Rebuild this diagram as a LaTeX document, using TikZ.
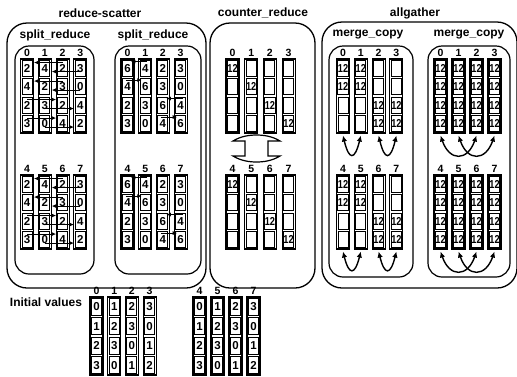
\documentclass[tikz,border=0pt]{standalone}
\usepackage{fontspec}
\setmainfont{Liberation Sans}
\usepackage{graphicx}
\usetikzlibrary{arrows.meta,calc}
\newcommand\tw{\scalebox{0.8}[1]{12}}
\def\rowh{18.5}
\newcommand\mkcol[5]{%
  \node[colbox, minimum height={4*\rowh pt}] (#1) at ({#2+6.5},{#3+2*\rowh}) {};
  \node[collbl] (#1-l) at ([yshift=1.8pt]#1.north) {#4};
  \foreach \v [count=\i from 0] in {#5} {%
    \node[cellbox, minimum height={\rowh pt-2.6pt}] (#1-\i) at ({#2+6.5},{#3+(\i+0.5)*\rowh}) {\v};
  }%
}
\newcommand\mkgrp[9]{%
  \mkcol{#1-0}{#2}{#4}{\the\numexpr#5\relax}{#6}%
  \mkcol{#1-1}{#2+#3}{#4}{\the\numexpr#5+1\relax}{#7}%
  \mkcol{#1-2}{#2+2*#3}{#4}{\the\numexpr#5+2\relax}{#8}%
  \mkcol{#1-3}{#2+3*#3}{#4}{\the\numexpr#5+3\relax}{#9}%
}
\newcommand\srAarrows[1]{%
  \foreach \r in {0,1} {%
    \draw[sar] ([yshift=-2.7pt]#1-2-\r.north) -- ([xshift=1.5pt,yshift=-2.7pt]#1-0-\r.north east);
    \draw[sar] ([yshift=-11.7pt]#1-3-\r.north) -- ([xshift=1.5pt,yshift=-11.7pt]#1-1-\r.north east);
  }%
  \foreach \r in {2,3} {%
    \draw[sar] ([yshift=-2.7pt]#1-0-\r.north) -- ([xshift=-1pt,yshift=-2.7pt]#1-2-\r.north west);
    \draw[sar] ([yshift=-11.7pt]#1-1-\r.north) -- ([xshift=-1pt,yshift=-11.7pt]#1-3-\r.north west);
  }%
}
\newcommand\srBarrows[1]{%
  \draw[sar] ([xshift=2pt,yshift=-1.7pt]#1-1-0.north) -- ([xshift=-2pt,yshift=-1.7pt]#1-0-0.north east);
  \draw[sar] ([xshift=-2pt,yshift=-1.7pt]#1-0-1.north) -- ([xshift=2pt,yshift=-1.7pt]#1-1-1.north west);
  \draw[sar] ([xshift=2pt,yshift=-1.7pt]#1-3-2.north) -- ([xshift=-2pt,yshift=-1.7pt]#1-2-2.north east);
  \draw[sar] ([xshift=-2pt,yshift=-1.7pt]#1-2-3.north) -- ([xshift=2pt,yshift=-1.7pt]#1-3-3.north west);
}
\newcommand\mcA[2]{%
  \draw[mar] ([yshift=-2pt]#1-0.south) .. controls +(6,#2) and +(-6,#2) .. ([yshift=-2pt]#1-1.south);
  \draw[mar] ([yshift=-2pt]#1-2.south) .. controls +(6,#2) and +(-6,#2) .. ([yshift=-2pt]#1-3.south);
}
\newcommand\mcB[2]{%
  \draw[mar] ([yshift=-2pt]#1-0.south) .. controls +(9,#2) and +(-9,#2) .. ([yshift=-2pt]#1-2.south);
  \draw[mar] ([yshift=-2pt]#1-1.south) .. controls +(9,#2) and +(-9,#2) .. ([yshift=-2pt]#1-3.south);
}
\begin{document}
\begin{tikzpicture}[x=1pt,y=-1pt,
  colbox/.style={draw, line width=1.1pt, minimum width=13pt, inner sep=0pt},
  cellbox/.style={draw, line width=0.9pt, minimum width=10pt, inner sep=0pt, font=\fontsize{11.5}{11.5}\selectfont\bfseries},
  collbl/.style={anchor=base, inner sep=0pt, font=\fontsize{10.5}{10.5}\selectfont\bfseries},
  ttl/.style={inner sep=0pt, font=\fontsize{12}{14}\selectfont\bfseries},
  outerbox/.style={draw, line width=1.3pt, rounded corners=20pt},
  innerbox/.style={draw, line width=1.2pt, rounded corners=14pt},
  sar/.style={line width=0.8pt, -{Latex[length=4.5pt,width=4pt]}},
  mar/.style={line width=1.4pt, {Latex[length=6pt,width=5.5pt]}-{Latex[length=6pt,width=5.5pt]}},
]
\useasboundingbox (0,0) rectangle (517,376);
% frames
\draw[outerbox] (7,23) rectangle (206,288);
\draw[innerbox] (15,46) rectangle (94,274);
\draw[innerbox] (115,46) rectangle (201,274);
\draw[outerbox] (210,23) rectangle (315,288);
\draw[outerbox] (322,22) rectangle (517,288);
\draw[innerbox] (329,46) rectangle (413,277);
\draw[innerbox] (428,46) rectangle (510,277);
% titles
\node[ttl] (t-rs) at (100,13) {reduce-scatter};
\node[ttl] (t-sr1) at (55,35) {split\_reduce};
\node[ttl] (t-sr2) at (153,35) {split\_reduce};
\node[ttl] (t-cr) at (263,13) {counter\_reduce};
\node[ttl] (t-ag) at (415,13) {allgather};
\node[ttl] (t-mc1) at (368,35) {merge\_copy};
\node[ttl] (t-mc2) at (469,35) {merge\_copy};
\node[ttl] (t-iv) at (46,302) {Initial values};
% columns
\def\rowh{18.5}
\mkgrp{sru}{20.5}{17.8}{59}{0}{2,4,2,3}{4,2,3,0}{2,3,2,4}{3,0,4,2}
\mkgrp{srd}{20.5}{17.8}{175}{4}{2,4,2,3}{4,2,3,0}{2,3,2,4}{3,0,4,2}
\mkgrp{sr2u}{121}{17.7}{59}{0}{6,4,2,3}{4,6,3,0}{2,3,6,4}{3,0,4,6}
\mkgrp{sr2d}{121}{17.7}{175}{4}{6,4,2,3}{4,6,3,0}{2,3,6,4}{3,0,4,6}
\mkgrp{cru}{226}{18.7}{59}{0}{\tw,{},{},{}}{{},\tw,{},{}}{{},{},\tw,{}}{{},{},{},\tw}
\mkgrp{crd}{226}{18.7}{175}{4}{\tw,{},{},{}}{{},\tw,{},{}}{{},{},\tw,{}}{{},{},{},\tw}
\mkgrp{mc1u}{336.5}{17.8}{59}{0}{\tw,\tw,{},{}}{\tw,\tw,{},{}}{{},{},\tw,\tw}{{},{},\tw,\tw}
\mkgrp{mc1d}{336.5}{17.8}{175}{4}{\tw,\tw,{},{}}{\tw,\tw,{},{}}{{},{},\tw,\tw}{{},{},\tw,\tw}
\mkgrp{mc2u}{434}{18}{59}{0}{\tw,\tw,\tw,\tw}{\tw,\tw,\tw,\tw}{\tw,\tw,\tw,\tw}{\tw,\tw,\tw,\tw}
\mkgrp{mc2d}{434}{18}{175}{4}{\tw,\tw,\tw,\tw}{\tw,\tw,\tw,\tw}{\tw,\tw,\tw,\tw}{\tw,\tw,\tw,\tw}
\def\rowh{19.5}
\mkgrp{ini1}{90}{17.7}{297}{0}{0,1,2,3}{1,2,3,0}{2,3,0,1}{3,0,1,2}
\mkgrp{ini2}{193}{18}{297}{4}{0,1,2,3}{1,2,3,0}{2,3,0,1}{3,0,1,2}
% arrows
\srAarrows{sru}
\srAarrows{srd}
\srBarrows{sr2u}
\srBarrows{sr2d}
\mcA{mc1u}{25}
\mcA{mc1d}{24}
\mcB{mc2u}{26}
\mcB{mc2d}{26}
% exchange arrow in counter_reduce
\draw[line width=1.2pt, fill=white] (245,141) -- (233,141) .. controls (241,136) and (250,135) .. (256.5,135) .. controls (263,135) and (272,136) .. (280,141) -- (268,141) -- (268,156) -- (280,156) .. controls (272,161) and (263,162) .. (256.5,162) .. controls (250,162) and (241,161) .. (233,156) -- (245,156) -- cycle;
\end{tikzpicture}
\end{document}
